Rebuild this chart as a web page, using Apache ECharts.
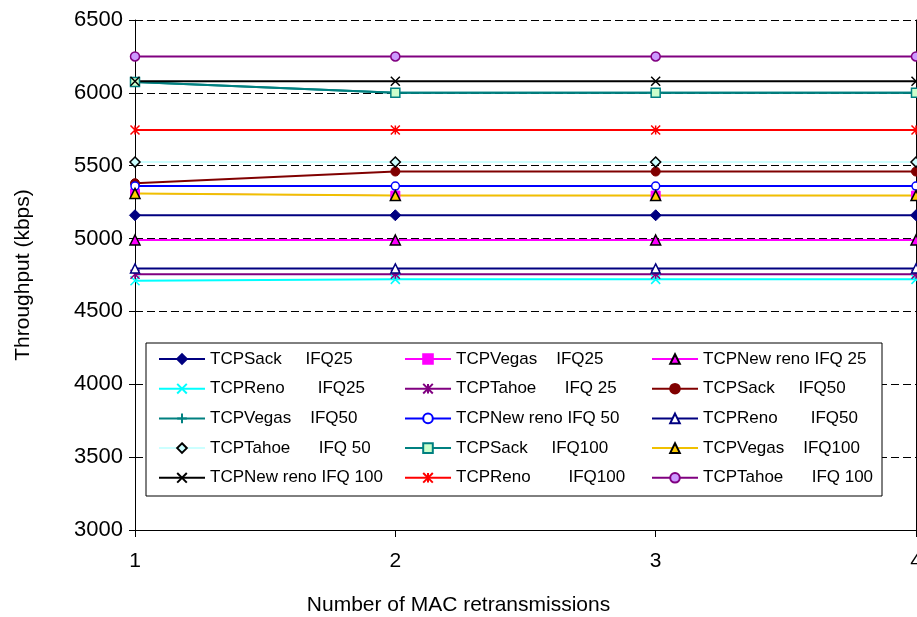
<!DOCTYPE html>
<html>
<head>
<meta charset="utf-8">
<script src="https://cdn.jsdelivr.net/npm/echarts@6/dist/echarts.min.js"></script>
<style>
  html, body { margin: 0; padding: 0; background: #fff; }
  #chart { width: 917px; height: 617px; }
</style>
</head>
<body>
<div id="chart"></div>
<script>
// Number of MAC retransmissions
const categories = ['1', '2', '3', '4'];

// Throughput axis range (kbps)
const yMin = 3000;
const yMax = 6500;
const yStep = 500;

// Throughput per TCP variant and interface queue size (kbps)
const sack25     = [5160, 5160, 5160, 5160];
const vegas25    = [5310, 5295, 5295, 5295];
const newreno25  = [4990, 4990, 4990, 4990];
const reno25     = [4710, 4720, 4720, 4720];
const tahoe25    = [4755, 4755, 4755, 4755];
const sack50     = [5380, 5460, 5460, 5460];
const vegas50    = [6075, 6000, 6000, 6000];
const newreno50  = [5360, 5360, 5360, 5360];
const reno50     = [4795, 4795, 4795, 4795];
const tahoe50    = [5525, 5525, 5525, 5525];
const sack100    = [6075, 6000, 6000, 6000];
const vegas100   = [5310, 5295, 5295, 5295];
const newreno100 = [6080, 6080, 6080, 6080];
const reno100    = [5745, 5745, 5745, 5745];
const tahoe100   = [6250, 6250, 6250, 6250];

// Series names as shown in the legend
const names = {
  sack25: 'TCPSack     IFQ25',
  vegas25: 'TCPVegas    IFQ25',
  newreno25: 'TCPNew reno IFQ 25',
  reno25: 'TCPReno       IFQ25',
  tahoe25: 'TCPTahoe      IFQ 25',
  sack50: 'TCPSack     IFQ50',
  vegas50: 'TCPVegas    IFQ50',
  newreno50: 'TCPNew reno IFQ 50',
  reno50: 'TCPReno       IFQ50',
  tahoe50: 'TCPTahoe      IFQ 50',
  sack100: 'TCPSack     IFQ100',
  vegas100: 'TCPVegas    IFQ100',
  newreno100: 'TCPNew reno IFQ 100',
  reno100: 'TCPReno        IFQ100',
  tahoe100: 'TCPTahoe      IFQ 100'
};

const FONT = "'Liberation Sans', Arial, sans-serif";

// Stroke-only marker shapes
const X_MARK = 'path://M0,0L10,10M10,0L0,10';
const PLUS_MARK = 'path://M5,0L5,10M0,5L10,5';
const STAR_MARK = 'path://M0,0L10,10M10,0L0,10M5,0L5,10';

function line(name, data, lineColor, symbol, size, fill, border, borderWidth, lineWidth) {
  return {
    type: 'line',
    name: name,
    data: data,
    symbol: symbol,
    symbolSize: size,
    showSymbol: true,
    lineStyle: { color: lineColor, width: lineWidth || 2 },
    itemStyle: { color: fill, borderColor: border, borderWidth: borderWidth },
    emphasis: { disabled: true }
  };
}

const series = [
  line(names.sack25,     sack25,     '#000080', 'diamond',  11, '#000080', '#000080', 1),
  // sits underneath the IFQ100 Vegas line, so keep it thin enough to stay covered
  line(names.vegas25,    vegas25,    '#ff00ff', 'rect',      9, '#ff00ff', '#ff00ff', 1, 1),
  line(names.newreno25,  newreno25,  '#ff00ff', 'triangle', 10, '#ff00ff', '#000000', 1.5),
  line(names.reno25,     reno25,     '#00ffff', X_MARK,      9, '#00ffff', '#00ffff', 1.5),
  line(names.tahoe25,    tahoe25,    '#800080', STAR_MARK,   9, '#800080', '#800080', 1.5),
  line(names.sack50,     sack50,     '#800000', 'circle',    9, '#800000', '#800000', 1),
  line(names.vegas50,    vegas50,    '#008080', PLUS_MARK,   9, '#008080', '#008080', 1.5),
  line(names.newreno50,  newreno50,  '#0000ff', 'circle',    8, '#ffffff', '#0000ff', 1.5),
  line(names.reno50,     reno50,     '#000080', 'triangle',  9, '#ffffff', '#000080', 1.5),
  line(names.tahoe50,    tahoe50,    '#ccffff', 'diamond',  10, '#ccffff', '#000000', 1.5),
  line(names.sack100,    sack100,    '#008080', 'rect',      9, '#ccffcc', '#008080', 1.5),
  line(names.vegas100,   vegas100,   '#f0c000', 'triangle', 10, '#ffcc00', '#000000', 1.5),
  line(names.newreno100, newreno100, '#000000', X_MARK,      9, '#000000', '#000000', 1.5),
  line(names.reno100,    reno100,    '#ff0000', STAR_MARK,   9, '#ff0000', '#ff0000', 1.5),
  line(names.tahoe100,   tahoe100,   '#800080', 'circle',    9, '#cc99ff', '#800080', 1.5)
];

// Legend laid out in three columns, read row by row
const legendColumns = [
  [names.sack25, names.reno25, names.vegas50, names.tahoe50, names.newreno100],
  [{ name: names.vegas25, lineStyle: { width: 2 } }, names.tahoe25, names.newreno50, names.sack100, names.reno100],
  [names.newreno25, names.sack50, names.reno50, names.vegas100, names.tahoe100]
];
const legendLefts = [158, 404, 651];

const legends = legendColumns.map(function (col, i) {
  return {
    orient: 'vertical',
    left: legendLefts[i],
    top: 350,
    padding: 0,
    itemWidth: 46,
    itemHeight: 12,
    itemGap: 11.7,
    selectedMode: false,
    data: col,
    textStyle: { fontFamily: FONT, fontSize: 17, color: '#000', lineHeight: 18 }
  };
});

const chart = echarts.init(document.getElementById('chart'), null, { renderer: 'canvas' });
chart.setOption({
  animation: false,
  backgroundColor: '#ffffff',
  title: {
    text: 'Number of MAC retransmissions',
    left: 'center',
    top: 595,
    padding: 0,
    textStyle: { fontFamily: FONT, fontSize: 21, fontWeight: 'normal', color: '#000' }
  },
  grid: { left: 135, right: 1, top: 20, bottom: 87, containLabel: false, outerBoundsMode: 'none' },
  graphic: [{
    type: 'rect',
    z: 3,
    shape: { x: 146, y: 343, width: 736, height: 153 },
    style: { fill: '#ffffff', stroke: '#000000', lineWidth: 1 }
  }],
  legend: legends,
  xAxis: {
    type: 'category',
    data: categories,
    boundaryGap: false,
    axisLine: { show: true, lineStyle: { color: '#000', width: 1 } },
    axisTick: { show: true, length: 7, lineStyle: { color: '#000' } },
    axisLabel: { fontFamily: FONT, fontSize: 21, color: '#000', margin: 21 },
    splitLine: { show: false }
  },
  yAxis: [
    {
      type: 'value',
      min: yMin, max: yMax, interval: yStep,
      position: 'left',
      axisLine: { show: true, lineStyle: { color: '#000', width: 1 } },
      axisTick: { show: true, length: 6, lineStyle: { color: '#000' } },
      axisLabel: {
        fontFamily: FONT, fontSize: 22, color: '#000', margin: 12,
        formatter: function (v) { return String(v); }
      },
      splitLine: { show: true, lineStyle: { color: '#000', width: 1, type: [8, 4] } },
      name: 'Throughput (kbps)',
      nameLocation: 'middle',
      nameGap: 101,
      nameTextStyle: { fontFamily: FONT, fontSize: 21, color: '#000' }
    },
    {
      type: 'value',
      min: yMin, max: yMax, interval: yStep,
      position: 'right',
      axisLine: { show: true, lineStyle: { color: '#000', width: 1 } },
      axisTick: { show: false },
      axisLabel: { show: false },
      splitLine: { show: false }
    },
    {
      type: 'value',
      min: yMin, max: yMax, interval: yStep,
      position: 'left',
      axisLine: { show: false },
      axisTick: { show: true, inside: true, length: 6, lineStyle: { color: '#000' } },
      axisLabel: { show: false },
      splitLine: { show: false }
    }
  ],
  series: series
});
</script>
</body>
</html>
